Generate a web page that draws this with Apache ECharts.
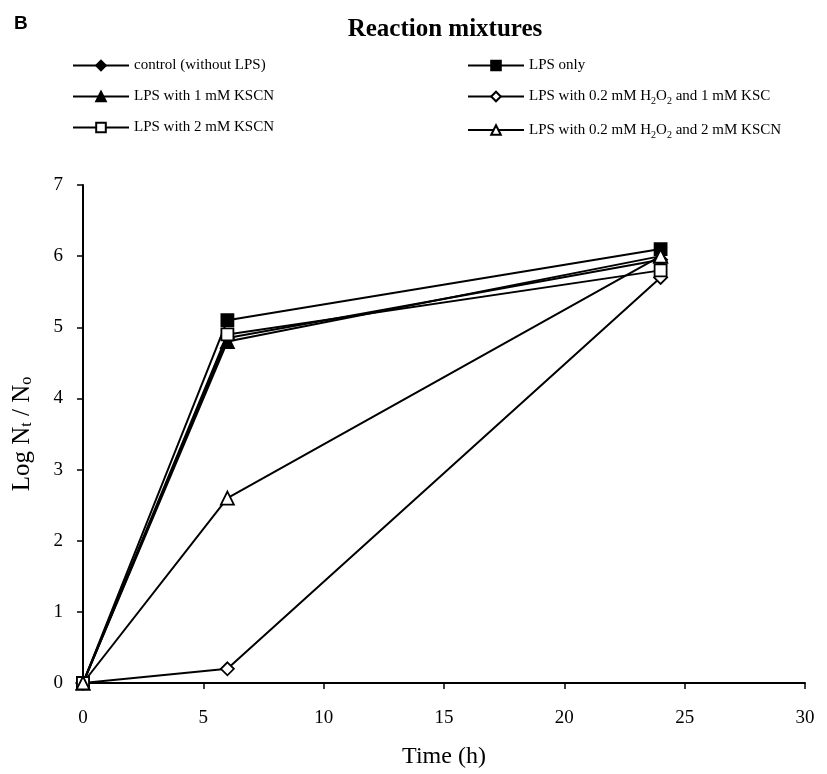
<!DOCTYPE html>
<html>
<head>
<meta charset="utf-8">
<script src="https://cdn.jsdelivr.net/npm/echarts@6/dist/echarts.min.js"></script>
<style>
html, body { margin: 0; padding: 0; background: #fff; }
#chart { width: 827px; height: 774px; }
</style>
</head>
<body>
<div id="chart"></div>
<script>
// time points (h)
var times = [0, 6, 24];
var xTicks = [0, 5, 10, 15, 20, 25, 30];
var yTicks = [0, 1, 2, 3, 4, 5, 6, 7];

// Log Nt / No for each reaction mixture
var control = [0, 4.85, 5.95];
var lpsOnly = [0, 5.1, 6.1];
var lps1KSCN = [0, 4.8, 6.0];
var lpsH2O2_1KSCN = [0, 0.2, 5.7];
var lps2KSCN = [0, 4.9, 5.8];
var lpsH2O2_2KSCN = [0, 2.6, 6.0];

var names = [
    'control (without LPS)',
    'LPS only',
    'LPS with 1 mM KSCN',
    'LPS with 0.2 mM H2O2 and 1 mM KSC',
    'LPS with 2 mM KSCN',
    'LPS with 0.2 mM H2O2 and 2 mM KSCN'
];

function pairs(vals) {
    return times.map(function (t, i) { return [t, vals[i]]; });
}

function makeSeries(name, vals, symbol, filled) {
    return {
        name: name,
        type: 'line',
        data: pairs(vals),
        symbol: symbol,
        symbolSize: symbol == 'rect' ? 12 : 13,
        showAllSymbol: true,
        lineStyle: { color: '#000', width: 2 },
        itemStyle: {
            color: filled ? '#000' : '#fff',
            borderColor: '#000',
            borderWidth: 1.8
        }
    };
}

var serif = '"Liberation Serif", "Times New Roman", serif';

var chart = echarts.init(document.getElementById('chart'));
var legendBase = {
    orient: 'vertical',
    itemWidth: 56,
    itemHeight: 12,
    itemGap: 16,
    textStyle: {
        fontFamily: serif, fontSize: 15, color: '#000',
        rich: { sub: { fontFamily: serif, fontSize: 10, padding: [10, 0, 0, 0] } }
    },
    formatter: function (n) {
        return n.replace(/H2O2/, 'H{sub|2}O{sub|2}');
    }
};

var option = {
    animation: false,
    backgroundColor: '#fff',
    title: [
        {
            text: 'Reaction mixtures',
            left: 440, top: 12, textAlign: 'center',
            textStyle: { fontFamily: serif, fontSize: 25, fontWeight: 'bold', color: '#000' }
        },
        {
            text: 'B',
            left: 9, top: 9,
            textStyle: { fontFamily: '"Liberation Sans", Arial, sans-serif', fontSize: 19, fontWeight: 'bold', color: '#000' }
        }
    ],
    legend: [
        Object.assign({}, legendBase, { left: 67, top: 53, data: [names[0], names[2], names[4]] }),
        Object.assign({}, legendBase, { left: 462, top: 53, data: [names[1], names[3], names[5]] })
    ],
    grid: { left: 83, right: 22, top: 185, bottom: 87, containLabel: false },
    xAxis: {
        type: 'value',
        min: xTicks[0], max: xTicks[xTicks.length - 1], interval: 5,
        name: 'Time (h)',
        nameLocation: 'middle',
        nameGap: 62,
        nameTextStyle: { fontFamily: serif, fontSize: 24, color: '#000' },
        axisLine: { lineStyle: { color: '#000', width: 2 } },
        axisTick: { show: true, length: 6, lineStyle: { color: '#000', width: 1.5 } },
        axisLabel: { fontFamily: serif, fontSize: 19, color: '#000', margin: 26 },
        splitLine: { show: false }
    },
    yAxis: {
        type: 'value',
        min: yTicks[0], max: yTicks[yTicks.length - 1], interval: 1,
        name: 'Log N{s|t} / N{s|o}',
        nameLocation: 'middle',
        nameGap: 48,
        nameTextStyle: {
            fontFamily: serif, fontSize: 25, color: '#000',
            rich: { s: { fontFamily: serif, fontSize: 16, padding: [10, 0, 0, 0] } }
        },
        axisLine: { show: true, lineStyle: { color: '#000', width: 2 } },
        axisTick: { show: true, length: 6, lineStyle: { color: '#000', width: 1.5 } },
        axisLabel: { fontFamily: serif, fontSize: 19, color: '#000', margin: 20 },
        splitLine: { show: false }
    },
    series: [
        makeSeries(names[0], control, 'diamond', true),
        makeSeries(names[1], lpsOnly, 'rect', true),
        makeSeries(names[2], lps1KSCN, 'triangle', true),
        makeSeries(names[3], lpsH2O2_1KSCN, 'diamond', false),
        makeSeries(names[4], lps2KSCN, 'rect', false),
        makeSeries(names[5], lpsH2O2_2KSCN, 'triangle', false)
    ]
};
chart.setOption(option);
</script>
</body>
</html>
